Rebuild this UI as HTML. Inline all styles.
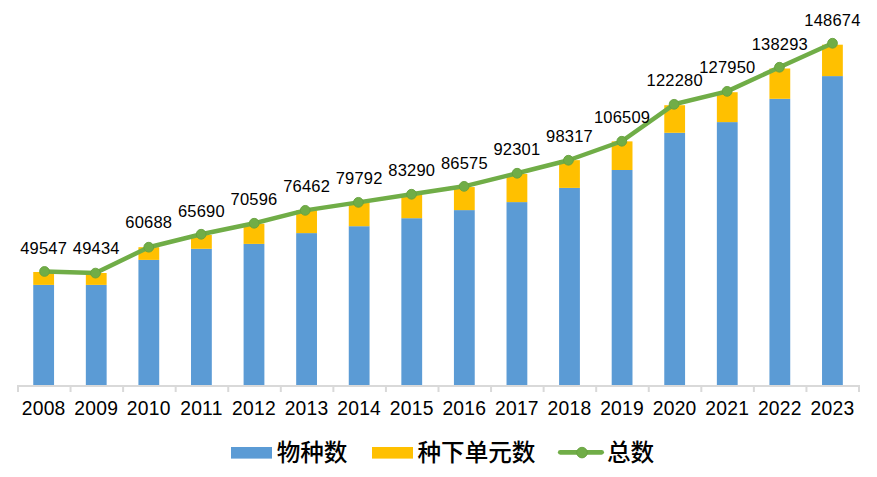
<!DOCTYPE html>
<html><head><meta charset="utf-8"><style>
html,body{margin:0;padding:0;background:#fff;}
svg{display:block;}
.dl{font-family:"Liberation Sans",Arial,sans-serif;font-size:16.5px;letter-spacing:0.2px;fill:#000;text-anchor:middle;}
.xl{font-family:"Liberation Sans",Arial,sans-serif;font-size:19.3px;letter-spacing:0.25px;fill:#000;text-anchor:middle;}
.lg{font-family:"Liberation Sans","Noto Sans CJK SC Medium","Noto Sans CJK SC",sans-serif;font-size:23.6px;font-weight:500;fill:#000;}
</style></head><body>
<svg width="877" height="477" viewBox="0 0 877 477">
<rect width="877" height="477" fill="#fff"/>
<rect x="33.25" y="284.90" width="20.8" height="100.10" fill="#5b9bd5"/>
<rect x="33.25" y="271.99" width="20.8" height="12.91" fill="#ffc000"/>
<rect x="85.84" y="284.90" width="20.8" height="100.10" fill="#5b9bd5"/>
<rect x="85.84" y="273.00" width="20.8" height="11.90" fill="#ffc000"/>
<rect x="138.42" y="259.90" width="20.8" height="125.10" fill="#5b9bd5"/>
<rect x="138.42" y="247.20" width="20.8" height="12.70" fill="#ffc000"/>
<rect x="191.01" y="248.80" width="20.8" height="136.20" fill="#5b9bd5"/>
<rect x="191.01" y="234.97" width="20.8" height="13.83" fill="#ffc000"/>
<rect x="243.59" y="243.90" width="20.8" height="141.10" fill="#5b9bd5"/>
<rect x="243.59" y="223.72" width="20.8" height="20.18" fill="#ffc000"/>
<rect x="296.18" y="233.10" width="20.8" height="151.90" fill="#5b9bd5"/>
<rect x="296.18" y="210.27" width="20.8" height="22.83" fill="#ffc000"/>
<rect x="348.76" y="226.20" width="20.8" height="158.80" fill="#5b9bd5"/>
<rect x="348.76" y="202.64" width="20.8" height="23.56" fill="#ffc000"/>
<rect x="401.35" y="218.20" width="20.8" height="166.80" fill="#5b9bd5"/>
<rect x="401.35" y="194.62" width="20.8" height="23.58" fill="#ffc000"/>
<rect x="453.93" y="210.10" width="20.8" height="174.90" fill="#5b9bd5"/>
<rect x="453.93" y="187.08" width="20.8" height="23.02" fill="#ffc000"/>
<rect x="506.52" y="202.10" width="20.8" height="182.90" fill="#5b9bd5"/>
<rect x="506.52" y="173.95" width="20.8" height="28.15" fill="#ffc000"/>
<rect x="559.10" y="187.90" width="20.8" height="197.10" fill="#5b9bd5"/>
<rect x="559.10" y="160.16" width="20.8" height="27.74" fill="#ffc000"/>
<rect x="611.69" y="170.00" width="20.8" height="215.00" fill="#5b9bd5"/>
<rect x="611.69" y="141.37" width="20.8" height="28.63" fill="#ffc000"/>
<rect x="664.27" y="132.80" width="20.8" height="252.20" fill="#5b9bd5"/>
<rect x="664.27" y="105.21" width="20.8" height="27.59" fill="#ffc000"/>
<rect x="716.86" y="122.10" width="20.8" height="262.90" fill="#5b9bd5"/>
<rect x="716.86" y="92.21" width="20.8" height="29.89" fill="#ffc000"/>
<rect x="769.44" y="98.80" width="20.8" height="286.20" fill="#5b9bd5"/>
<rect x="769.44" y="68.49" width="20.8" height="30.31" fill="#ffc000"/>
<rect x="822.03" y="76.10" width="20.8" height="308.90" fill="#5b9bd5"/>
<rect x="822.03" y="44.69" width="20.8" height="31.41" fill="#ffc000"/>
<line x1="17" y1="386" x2="860" y2="386" stroke="#d9d9d9" stroke-width="2"/>
<line x1="18.00" y1="385" x2="18.00" y2="392" stroke="#d9d9d9" stroke-width="2"/>
<line x1="70.56" y1="385" x2="70.56" y2="392" stroke="#d9d9d9" stroke-width="2"/>
<line x1="123.12" y1="385" x2="123.12" y2="392" stroke="#d9d9d9" stroke-width="2"/>
<line x1="175.69" y1="385" x2="175.69" y2="392" stroke="#d9d9d9" stroke-width="2"/>
<line x1="228.25" y1="385" x2="228.25" y2="392" stroke="#d9d9d9" stroke-width="2"/>
<line x1="280.81" y1="385" x2="280.81" y2="392" stroke="#d9d9d9" stroke-width="2"/>
<line x1="333.38" y1="385" x2="333.38" y2="392" stroke="#d9d9d9" stroke-width="2"/>
<line x1="385.94" y1="385" x2="385.94" y2="392" stroke="#d9d9d9" stroke-width="2"/>
<line x1="438.50" y1="385" x2="438.50" y2="392" stroke="#d9d9d9" stroke-width="2"/>
<line x1="491.06" y1="385" x2="491.06" y2="392" stroke="#d9d9d9" stroke-width="2"/>
<line x1="543.62" y1="385" x2="543.62" y2="392" stroke="#d9d9d9" stroke-width="2"/>
<line x1="596.19" y1="385" x2="596.19" y2="392" stroke="#d9d9d9" stroke-width="2"/>
<line x1="648.75" y1="385" x2="648.75" y2="392" stroke="#d9d9d9" stroke-width="2"/>
<line x1="701.31" y1="385" x2="701.31" y2="392" stroke="#d9d9d9" stroke-width="2"/>
<line x1="753.88" y1="385" x2="753.88" y2="392" stroke="#d9d9d9" stroke-width="2"/>
<line x1="806.44" y1="385" x2="806.44" y2="392" stroke="#d9d9d9" stroke-width="2"/>
<line x1="859.00" y1="385" x2="859.00" y2="392" stroke="#d9d9d9" stroke-width="2"/>
<polyline points="44.5,271.45 95.5,273.1 148.75,247.2 201.15,234.25 254.2,223.25 305.25,210.35 358.4,202.35 411.5,194.25 464.1,186.35 517.1,173.25 568.45,160.25 621.8,141.25 674.1,104.3 727.1,91.35 779.45,67.25 832.5,43.25" fill="none" stroke="#70ad47" stroke-width="4.5" stroke-linejoin="round" stroke-linecap="round"/>
<circle cx="44.5" cy="271.45" r="4.9" fill="#70ad47" stroke="#66a03e" stroke-width="0.9"/>
<circle cx="95.5" cy="273.1" r="4.9" fill="#70ad47" stroke="#66a03e" stroke-width="0.9"/>
<circle cx="148.75" cy="247.2" r="4.9" fill="#70ad47" stroke="#66a03e" stroke-width="0.9"/>
<circle cx="201.15" cy="234.25" r="4.9" fill="#70ad47" stroke="#66a03e" stroke-width="0.9"/>
<circle cx="254.2" cy="223.25" r="4.9" fill="#70ad47" stroke="#66a03e" stroke-width="0.9"/>
<circle cx="305.25" cy="210.35" r="4.9" fill="#70ad47" stroke="#66a03e" stroke-width="0.9"/>
<circle cx="358.4" cy="202.35" r="4.9" fill="#70ad47" stroke="#66a03e" stroke-width="0.9"/>
<circle cx="411.5" cy="194.25" r="4.9" fill="#70ad47" stroke="#66a03e" stroke-width="0.9"/>
<circle cx="464.1" cy="186.35" r="4.9" fill="#70ad47" stroke="#66a03e" stroke-width="0.9"/>
<circle cx="517.1" cy="173.25" r="4.9" fill="#70ad47" stroke="#66a03e" stroke-width="0.9"/>
<circle cx="568.45" cy="160.25" r="4.9" fill="#70ad47" stroke="#66a03e" stroke-width="0.9"/>
<circle cx="621.8" cy="141.25" r="4.9" fill="#70ad47" stroke="#66a03e" stroke-width="0.9"/>
<circle cx="674.1" cy="104.3" r="4.9" fill="#70ad47" stroke="#66a03e" stroke-width="0.9"/>
<circle cx="727.1" cy="91.35" r="4.9" fill="#70ad47" stroke="#66a03e" stroke-width="0.9"/>
<circle cx="779.45" cy="67.25" r="4.9" fill="#70ad47" stroke="#66a03e" stroke-width="0.9"/>
<circle cx="832.5" cy="43.25" r="4.9" fill="#70ad47" stroke="#66a03e" stroke-width="0.9"/>
<text x="43.65" y="253.80" class="dl">49547</text>
<text x="96.24" y="254.06" class="dl">49434</text>
<text x="148.82" y="228.16" class="dl">60688</text>
<text x="201.41" y="216.65" class="dl">65690</text>
<text x="253.99" y="205.36" class="dl">70596</text>
<text x="306.58" y="191.86" class="dl">76462</text>
<text x="359.16" y="184.19" class="dl">79792</text>
<text x="411.75" y="176.14" class="dl">83290</text>
<text x="464.33" y="168.58" class="dl">86575</text>
<text x="516.92" y="155.40" class="dl">92301</text>
<text x="569.50" y="141.55" class="dl">98317</text>
<text x="622.09" y="122.70" class="dl">106509</text>
<text x="674.67" y="86.40" class="dl">122280</text>
<text x="727.26" y="73.35" class="dl">127950</text>
<text x="779.84" y="49.54" class="dl">138293</text>
<text x="832.43" y="25.65" class="dl">148674</text>
<text x="43.65" y="414.8" class="xl">2008</text>
<text x="96.24" y="414.8" class="xl">2009</text>
<text x="148.82" y="414.8" class="xl">2010</text>
<text x="201.41" y="414.8" class="xl">2011</text>
<text x="253.99" y="414.8" class="xl">2012</text>
<text x="306.58" y="414.8" class="xl">2013</text>
<text x="359.16" y="414.8" class="xl">2014</text>
<text x="411.75" y="414.8" class="xl">2015</text>
<text x="464.33" y="414.8" class="xl">2016</text>
<text x="516.92" y="414.8" class="xl">2017</text>
<text x="569.50" y="414.8" class="xl">2018</text>
<text x="622.09" y="414.8" class="xl">2019</text>
<text x="674.67" y="414.8" class="xl">2020</text>
<text x="727.26" y="414.8" class="xl">2021</text>
<text x="779.84" y="414.8" class="xl">2022</text>
<text x="832.43" y="414.8" class="xl">2023</text>
<rect x="231" y="447" width="41" height="11.6" fill="#5b9bd5"/>
<text x="276.7" y="460.6" class="lg">物种数</text>
<rect x="372" y="447" width="41" height="11.6" fill="#ffc000"/>
<text x="417.5" y="460.6" class="lg">种下单元数</text>
<line x1="560.3" y1="452.3" x2="601.6" y2="452.3" stroke="#70ad47" stroke-width="4.8" stroke-linecap="round"/>
<circle cx="582" cy="452.6" r="5.3" fill="#70ad47" stroke="#66a03e" stroke-width="0.9"/>
<text x="607" y="460.6" class="lg">总数</text>
</svg>
</body></html>
